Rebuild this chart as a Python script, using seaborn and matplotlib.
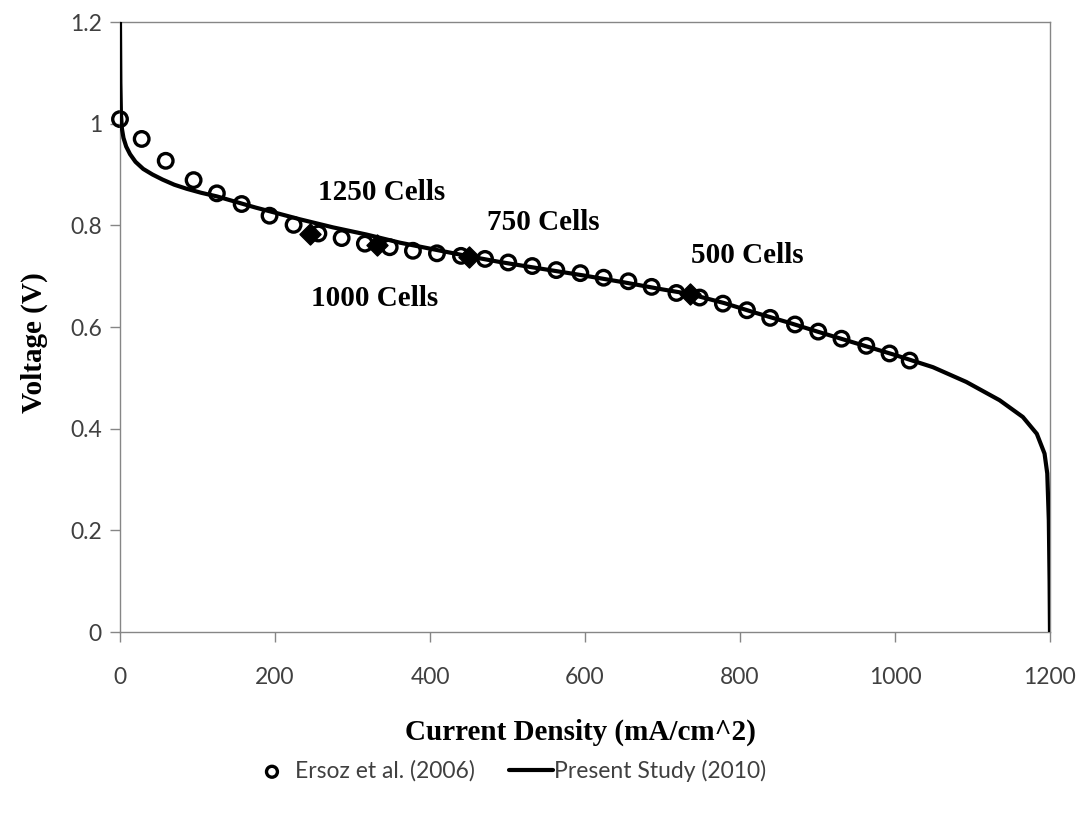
import matplotlib
matplotlib.use("Agg")
import matplotlib.pyplot as plt
import seaborn as sns
import numpy as np

# Ersoz et al. (2006) - open circles
ersoz_x = [0, 28, 59, 95, 125, 157, 193, 224, 256, 286, 316, 348, 378, 409, 440,
           471, 501, 532, 563, 594, 624, 656, 686, 718, 748, 778, 809, 839, 871,
           901, 931, 963, 993, 1019]
ersoz_v = [1.009, 0.970, 0.927, 0.889, 0.863, 0.842, 0.819, 0.801, 0.784, 0.775,
           0.764, 0.757, 0.750, 0.745, 0.740, 0.734, 0.727, 0.720, 0.712, 0.706,
           0.697, 0.690, 0.679, 0.667, 0.658, 0.646, 0.633, 0.618, 0.605, 0.591,
           0.577, 0.563, 0.548, 0.534]

# Present Study (2010) - polarization curve
study_x = [0.0, 0.5, 1.2, 2.5, 4.5, 8, 13, 20, 30, 42, 55, 70, 86, 105, 125, 150,
           175, 200, 232, 275, 318, 361, 404, 447, 490, 530, 600, 650, 700, 735,
           780, 820, 860, 900, 950, 1000, 1049, 1092, 1135, 1165, 1183, 1193,
           1196.5, 1198.5, 1199.5, 1200]
study_v = [1.200, 1.080, 1.020, 0.990, 0.972, 0.955, 0.940, 0.925, 0.911, 0.900,
           0.890, 0.880, 0.872, 0.864, 0.857, 0.846, 0.835, 0.825, 0.812, 0.796,
           0.782, 0.766, 0.753, 0.740, 0.728, 0.718, 0.701, 0.688, 0.674, 0.665,
           0.647, 0.628, 0.610, 0.591, 0.568, 0.545, 0.521, 0.492, 0.456, 0.423,
           0.390, 0.351, 0.312, 0.220, 0.100, 0.000]

# stack operating points
cell_x = [245, 331, 450, 735]
cell_v = [0.783, 0.762, 0.738, 0.665]
cell_labels = ["1250 Cells", "1000 Cells", "750 Cells", "500 Cells"]
label_x = [338, 329, 546, 809]
label_v = [0.850, 0.641, 0.791, 0.726]

x_ticks = [0, 200, 400, 600, 800, 1000, 1200]
y_ticks = [0, 0.2, 0.4, 0.6, 0.8, 1.0, 1.2]
y_tick_labels = ["0", "0.2", "0.4", "0.6", "0.8", "1", "1.2"]

sns.set_theme(style="white")
plt.rcParams['font.family'] = ['Lato', 'DejaVu Sans']

fig = plt.figure(figsize=(10.81, 8.13), dpi=100)
ax = fig.add_axes([0.111, 0.2226, 0.8603, 0.7503])

sns.scatterplot(x=ersoz_x, y=ersoz_v, ax=ax, marker='o', s=110,
                facecolor='none', edgecolor='black', linewidth=2.4,
                label="Ersoz et al. (2006)", zorder=2, clip_on=False)
sns.lineplot(x=study_x, y=study_v, ax=ax, color='black', linewidth=3,
             estimator=None, sort=False, label="Present Study (2010)", zorder=3)
sns.scatterplot(x=cell_x, y=cell_v, ax=ax, marker='D', s=115, color='black',
                edgecolor='black', linewidth=1, zorder=4, legend=False)

serif = dict(family='Liberation Serif', fontweight='bold', fontsize=21, color='black')
for lx, lv, txt in zip(label_x, label_v, cell_labels):
    ax.text(lx, lv, txt, ha='center', va='baseline', **serif)

ax.set_xlim(0, 1200)
ax.set_ylim(0, 1.2)
ax.set_xticks(x_ticks)
ax.set_yticks(y_ticks)
ax.set_yticklabels(y_tick_labels)

for side in ['left', 'bottom', 'top', 'right']:
    ax.spines[side].set_color('#868686')
    ax.spines[side].set_linewidth(1.0)
ax.tick_params(axis='both', which='major', direction='out', length=7, width=1,
               color='#868686', labelsize=16.5, labelcolor='#404040',
               left=True, bottom=True)
ax.tick_params(axis='x', pad=18)
ax.tick_params(axis='y', pad=6)

ax.set_xlabel("Current Density (mA/cm^2)", **serif)
ax.set_ylabel("Voltage (V)", **serif)
ax.xaxis.set_label_coords(0.495, -0.142)
ax.yaxis.set_label_coords(-0.077, 0.475)

handles, labels = ax.get_legend_handles_labels()
ax.get_legend().remove()
fig.legend(handles, labels, loc='center', bbox_to_anchor=(0.47, 0.052), ncol=2,
           frameon=False, fontsize=16.5, handlelength=1.9, handletextpad=0.05,
           columnspacing=1.5, markerscale=0.75, labelcolor='#404040')

fig.savefig("out.png", dpi=100)
